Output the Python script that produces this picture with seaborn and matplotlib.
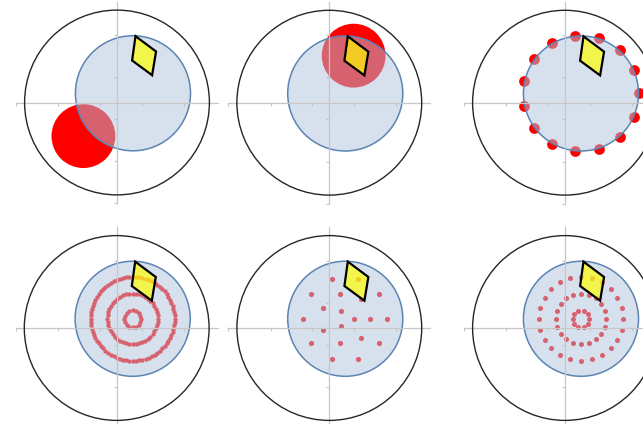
import numpy as np
import pandas as pd
import matplotlib
matplotlib.use("Agg")
import matplotlib.pyplot as plt
from matplotlib.patches import Circle, Polygon
import seaborn as sns

sns.set_style("white")

# field circle, pupil and the yellow detector (same in every panel)
field_radius = 1.1
pupil_center = (0.19, 0.11)
pupil_radius = 0.685
diamond_x = [0.22, 0.465, 0.418, 0.18]
diamond_y = [0.79, 0.607, 0.325, 0.50]
tick_pos = [-1.2, -0.7, -0.2, 0.3, 0.8]

# panels 1 and 2: one big red spot
spot_x = [-0.40, 0.29]
spot_y = [-0.40, 0.56]
spot_r = [0.38, 0.38]

# panel 3: dots on the pupil edge
edge_radii = [0.69]
edge_counts = [15]

# panels 4-6: rings of sample dots
ring_radii = [0.1, 0.3, 0.5]
dense_counts = [16, 48, 80]
sparse_counts = [3, 7, 10]
polar_counts = [10, 20, 24]

# panel centres in pixels (figure is 643x424)
centres_px = [(117, 102.5), (329.3, 102.7), (565, 102.7),
              (116.7, 328), (329.3, 328), (565, 328)]
px_per_unit = 84
W, H = 643, 424


def ring_points(radii, counts):
    rows = []
    for r, n in zip(radii, counts):
        for k in range(n):
            a = 2 * np.pi * k / n
            rows.append((pupil_center[0] + r * np.cos(a), pupil_center[1] + r * np.sin(a)))
    return pd.DataFrame(rows, columns=["x", "y"])


def base_panel(ax):
    for s in ["top", "right"]:
        ax.spines[s].set_visible(False)
    for s in ["left", "bottom"]:
        ax.spines[s].set_position(("data", 0))
        ax.spines[s].set_bounds(-1.2, 1.2)
        ax.spines[s].set_color("#c6c6c6")
        ax.spines[s].set_linewidth(0.9)
    ax.set_xticks(tick_pos)
    ax.set_yticks(tick_pos)
    ax.set_xticklabels([])
    ax.set_yticklabels([])
    ax.tick_params(bottom=True, left=True, direction="out", length=2.5,
                   width=0.8, color="#c6c6c6")
    ax.add_patch(Circle(pupil_center, pupil_radius, facecolor="lightsteelblue",
                        alpha=0.5, edgecolor="none", zorder=2))
    ax.add_patch(Circle(pupil_center, pupil_radius, facecolor="none",
                        edgecolor="#5b84b3", lw=1.1, zorder=2.2))
    ax.add_patch(Polygon(list(zip(diamond_x, diamond_y)), closed=True,
                         facecolor=(1, 1, 0, 0.68), edgecolor="black", lw=1.6, zorder=4))
    ax.add_patch(Circle((0, 0), field_radius, facecolor="none",
                        edgecolor="#262626", lw=1.0, zorder=3))


def dots(ax, df, size):
    sns.scatterplot(data=df, x="x", y="y", ax=ax, color="red", s=size,
                    linewidth=0, legend=False, zorder=1)
    ax.set_xlabel("")
    ax.set_ylabel("")


fig = plt.figure(figsize=(W / 100, H / 100), dpi=100)
half = 1.25
axes = []
for cx, cy in centres_px:
    size = 2 * half * px_per_unit
    ax = fig.add_axes([(cx - size / 2) / W, (H - cy - size / 2) / H, size / W, size / H])
    ax.patch.set_alpha(0)
    axes.append(ax)

# panels 1 and 2
for i in range(2):
    axes[i].add_patch(Circle((spot_x[i], spot_y[i]), spot_r[i], facecolor="red",
                             edgecolor="none", zorder=1))

dots(axes[2], ring_points(edge_radii, edge_counts), 60)
dots(axes[3], ring_points(ring_radii, dense_counts), 10)
dots(axes[4], ring_points(ring_radii, sparse_counts), 14)
dots(axes[5], ring_points(ring_radii, polar_counts), 13)

for ax in axes:
    base_panel(ax)
    ax.set_xlim(-half, half)
    ax.set_ylim(-half, half)
    ax.set_aspect("equal")

fig.savefig("out.png", dpi=100)
